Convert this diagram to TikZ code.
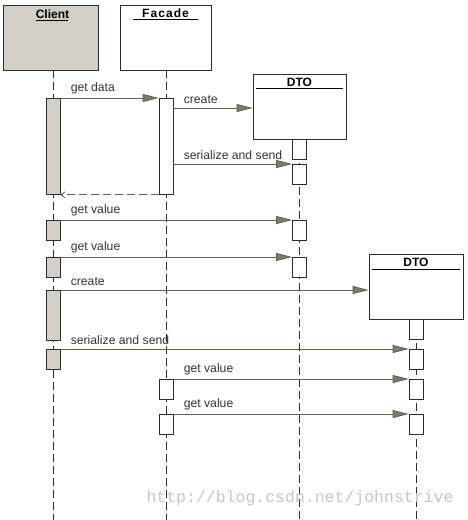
\documentclass[tikz,border=0pt]{standalone}
\usepackage{fontspec}
\setmainfont{Liberation Sans}
\setmonofont{Liberation Mono}
\usetikzlibrary{arrows.meta,positioning}

\definecolor{clientgray}{RGB}{212,208,200}
\definecolor{msgline}{RGB}{98,98,72}
\definecolor{tipfill}{RGB}{122,122,112}
\definecolor{boxline}{RGB}{45,45,45}

\begin{document}
\begin{tikzpicture}[
  x=1pt,y=-1pt,font=\fontsize{12.2}{14}\selectfont,
  obj/.style={draw=boxline, line width=0.8pt, minimum height=65pt, inner sep=0pt},
  title/.style={font=\fontsize{12}{14}\selectfont\bfseries, anchor=north, inner sep=0pt},
  act/.style={draw=boxline, line width=0.8pt, fill=white, minimum width=14pt,
    inner sep=0pt, anchor=north},
  cact/.style={act, fill=clientgray},
  life/.style={draw=boxline, line width=0.8pt, dash pattern=on 8pt off 4pt},
  msg/.style={draw=msgline, line width=0.8pt,
    -{Triangle[length=16pt,width=8pt,fill=tipfill]}},
  ret/.style={draw=msgline, line width=0.8pt, dash pattern=on 8pt off 4pt,
    -{Straight Barb[length=4pt,width=6pt]}},
  lbl/.style={text=black!80, anchor=south west, inner sep=0pt, yshift=4pt, xshift=10pt}
]
  \useasboundingbox (0,0) rectangle (468,520);

  % objects
  \node[obj, fill=clientgray, minimum width=95pt] (client) at (50.5,37.5) {};
  \node[obj, fill=white, minimum width=91pt] (facade) at (165.5,37.5) {};
  \node[obj, fill=white, minimum width=93pt] (dtoA) at (299.5,106.5) {};
  \node[obj, fill=white, minimum width=94pt] (dtoB) at (416,286.5) {};

  \node[title, yshift=-5pt] (clientT) at ([xshift=2pt]client.north) {Client};
  \draw[line width=0.8pt] (clientT.south west) ++(0,-1.5pt) -- ++(32pt,0);
  \node[title, yshift=-4pt] (facadeT) at (facade.north)
    {\addfontfeature{LetterSpace=9}Facade};
  \draw[line width=0.8pt] ([xshift=13pt,yshift=-15pt]facade.north west)
    -- ([xshift=-13pt,yshift=-15pt]facade.north east);
  \node[title, yshift=-4pt] (dtoAT) at (dtoA.north) {DTO};
  \draw[line width=0.8pt] ([xshift=3pt,yshift=-15pt]dtoA.north west)
    -- ([xshift=-3pt,yshift=-15pt]dtoA.north east);
  \node[title, yshift=-4pt] (dtoBT) at (dtoB.north) {DTO};
  \draw[line width=0.8pt] ([xshift=3pt,yshift=-16pt]dtoB.north west)
    -- ([xshift=-3pt,yshift=-16pt]dtoB.north east);

  % lifelines
  \draw[life] ([xshift=2.5pt]client.south) -- (53,520);
  \draw[life] ([xshift=0.5pt]facade.south) -- (166,520);
  \draw[life] (dtoA.south) -- (299.5,520);
  \draw[life] (dtoB.south) -- (416,520);

  % activations
  \node[cact, minimum height=96pt] (ca1) at (53,98) {};
  \node[cact, minimum height=20pt] (ca2) at (53,220) {};
  \node[cact, minimum height=20pt] (ca3) at (53,257) {};
  \node[cact, minimum height=50pt] (ca4) at (53,290) {};
  \node[cact, minimum height=20pt] (ca5) at (53,349) {};

  \node[act, minimum height=96pt] (fa1) at (166,98) {};
  \node[act, minimum height=20pt] (fa2) at (166,379) {};
  \node[act, minimum height=20pt] (fa3) at (166,414) {};

  \node[act, minimum height=20pt] (da1) at (dtoA.south) {};
  \node[act, minimum height=20pt] (da2) at (299.5,164) {};
  \node[act, minimum height=20pt] (da3) at (299.5,220) {};
  \node[act, minimum height=20pt] (da4) at (299.5,257) {};

  \node[act, minimum height=20pt] (ea1) at (dtoB.south) {};
  \node[act, minimum height=20pt] (ea2) at (416,349) {};
  \node[act, minimum height=20pt] (ea3) at (416,379) {};
  \node[act, minimum height=20pt] (ea4) at (416,414) {};

  % messages
  \draw[msg] (ca1.north east) -- node[lbl, pos=0] {get data} (fa1.north west);
  \draw[msg] (fa1.east |- 0,108) -- node[lbl, pos=0] {create} (dtoA.west |- 0,108);
  \draw[msg] (fa1.east |- da2.north) -- node[lbl, pos=0] {serialize and send} (da2.north west);
  \draw[ret] (fa1.south west) -- (ca1.south east);
  \draw[msg] (ca2.north east) -- node[lbl, pos=0] {get value} (da3.north west);
  \draw[msg] (ca3.north east) -- node[lbl, pos=0] {get value} (da4.north west);
  \draw[msg] (ca4.north east) -- node[lbl, pos=0] {create} (dtoB.west |- ca4.north);
  \draw[msg] (ca5.north east) -- node[lbl, pos=0] {serialize and send} (ea2.north west);
  \draw[msg] (fa2.north east) -- node[lbl, pos=0] {get value} (ea3.north west);
  \draw[msg] (fa3.north east) -- node[lbl, pos=0] {get value} (ea4.north west);

  \node[font=\fontsize{16.5}{18}\selectfont\ttfamily, text=black!22] (mark) at (300,498)
    {http://blog.csdn.net/johnstrive};
\end{tikzpicture}
\end{document}
